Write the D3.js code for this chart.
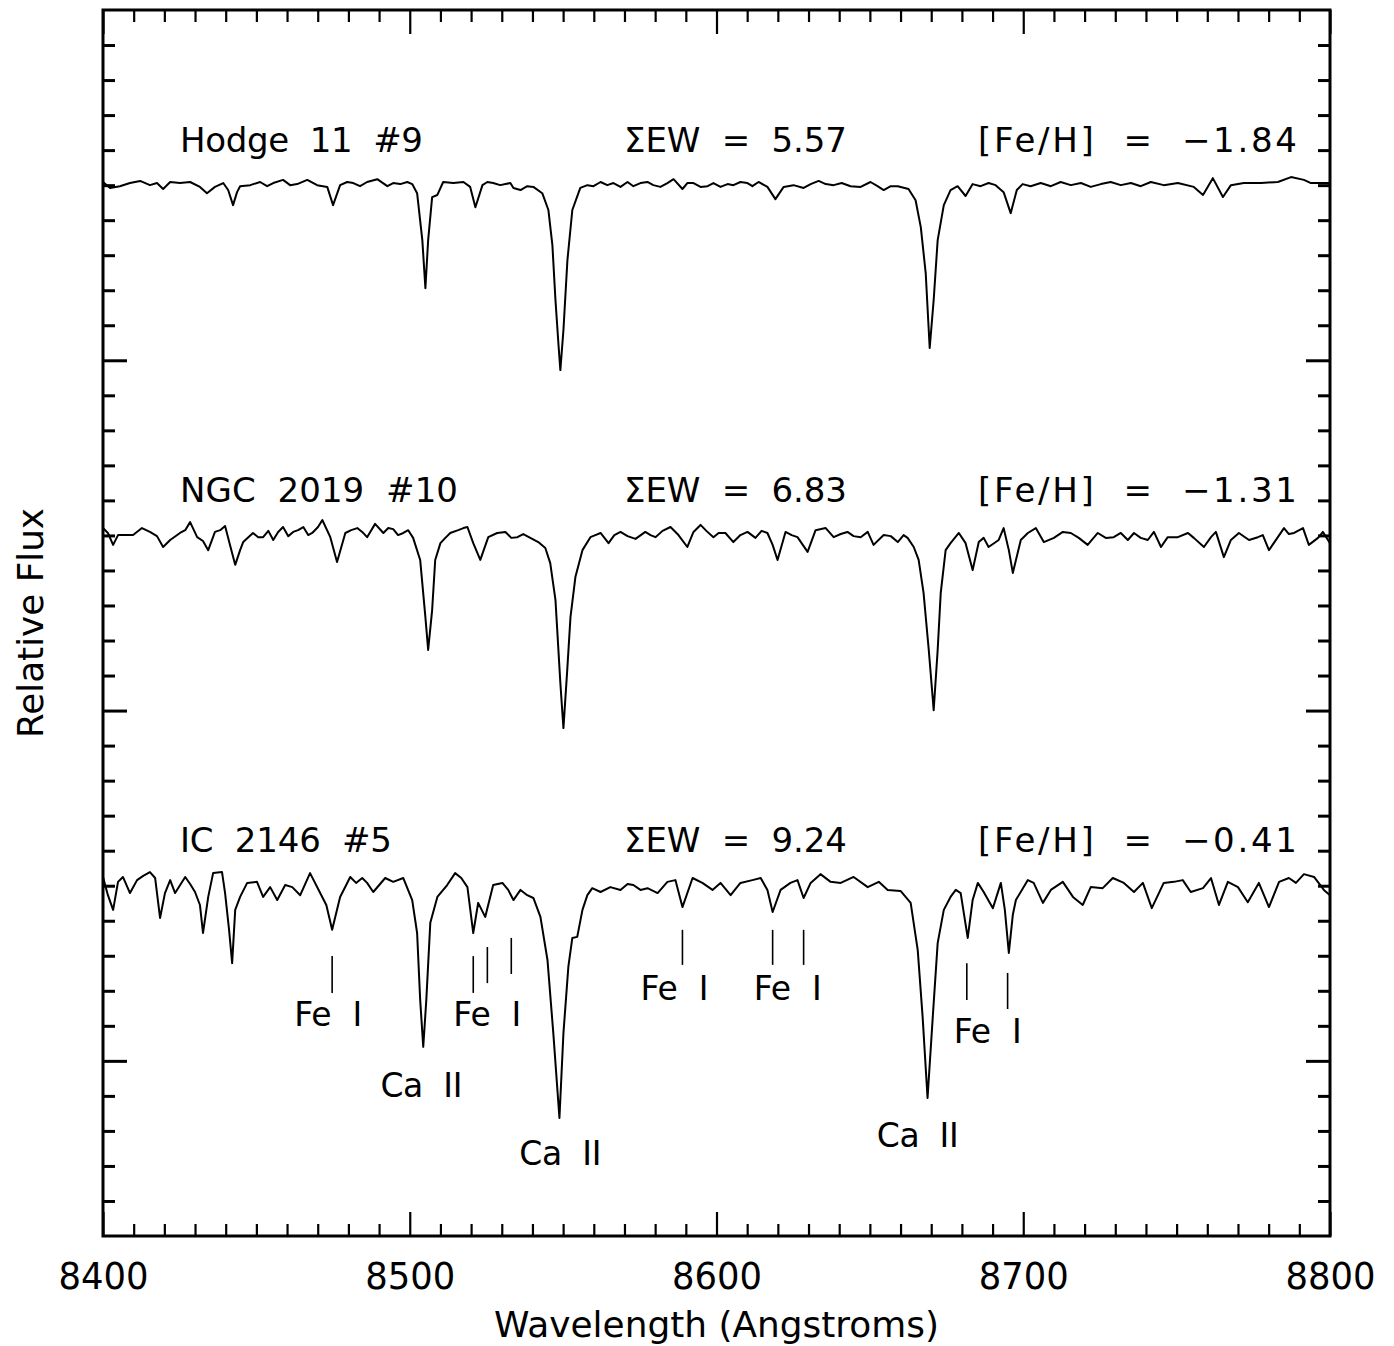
<!DOCTYPE html>
<html><head><meta charset="utf-8">
<script src="https://cdn.jsdelivr.net/npm/d3@7"></script>
<style>
body{margin:0;background:#fff}
svg{display:block}
text{font-family:"DejaVu Sans",Arial,sans-serif;fill:#000;white-space:pre}
</style>
</head><body>
<svg id="c" width="1394" height="1346"></svg>
<script>
// ---------------- DATA ----------------
// [wavelength (Å), normalized flux]
const hodge = [
[8400.0,1.009],[8402.3,0.992],[8405.5,0.997],[8408.8,1.006],[8412.1,1.012],[8415.3,1.000],[8417.6,1.006],[8419.6,0.989],[8421.9,1.009],[8425.1,1.006],[8428.4,1.009],[8431.6,0.995],[8433.9,0.977],[8436.5,0.995],[8439.2,1.006],[8440.8,0.986],[8442.4,0.943],[8443.7,0.980],[8444.7,0.997],[8448.0,1.000],[8451.2,1.009],[8453.5,0.997],[8455.5,1.006],[8458.7,1.015],[8461.0,1.000],[8463.3,1.003],[8466.6,1.015],[8469.8,1.000],[8473.1,0.995],[8475.0,0.943],[8477.3,1.000],[8479.6,1.009],[8481.6,1.006],[8483.8,0.997],[8486.1,1.009],[8489.4,1.017],[8492.7,0.997],[8494.6,1.006],[8496.9,1.003],[8499.2,1.009],[8500.8,1.003],[8502.4,0.977],[8504.1,0.843],[8505.1,0.706],[8506.0,0.843],[8507.3,0.966],[8509.0,0.972],[8510.9,1.009],[8514.2,1.006],[8517.5,1.009],[8519.7,0.995],[8521.4,0.937],[8523.7,1.000],[8525.3,1.009],[8527.2,1.006],[8529.5,1.000],[8531.2,1.003],[8532.8,1.006],[8533.8,0.992],[8536.1,0.986],[8538.3,0.997],[8540.3,0.995],[8543.2,0.977],[8545.2,0.929],[8546.5,0.829],[8547.5,0.672],[8548.5,0.543],[8549.1,0.472],[8550.1,0.586],[8551.4,0.786],[8553.0,0.929],[8555.6,0.992],[8557.9,1.000],[8559.9,0.997],[8562.2,1.009],[8564.4,1.000],[8566.4,1.006],[8568.7,0.995],[8571.0,1.009],[8572.9,0.997],[8575.2,1.006],[8577.5,1.009],[8579.4,1.000],[8581.7,0.995],[8584.0,1.006],[8586.0,1.017],[8588.9,0.989],[8590.5,1.006],[8592.5,1.006],[8594.8,0.995],[8597.1,0.997],[8599.0,1.006],[8601.3,0.995],[8603.6,1.003],[8605.5,1.000],[8607.8,1.009],[8610.1,1.006],[8611.7,0.997],[8613.7,1.009],[8616.6,0.995],[8619.2,0.960],[8621.9,0.995],[8625.1,1.000],[8628.4,0.992],[8630.7,1.003],[8633.3,1.012],[8635.6,1.003],[8638.2,1.000],[8640.8,1.006],[8643.7,0.997],[8647.0,0.995],[8650.2,1.009],[8652.5,0.997],[8654.5,0.986],[8656.8,0.997],[8659.1,0.997],[8662.6,0.989],[8664.9,0.957],[8666.6,0.880],[8668.2,0.749],[8669.5,0.535],[8670.8,0.672],[8672.1,0.843],[8674.1,0.943],[8676.3,0.986],[8678.6,0.997],[8681.2,0.969],[8683.5,1.003],[8686.1,0.997],[8688.7,1.006],[8691.0,1.000],[8693.6,0.980],[8695.9,0.920],[8697.9,0.986],[8699.8,1.003],[8702.4,0.997],[8705.7,1.006],[8709.0,0.997],[8712.2,1.009],[8715.5,1.000],[8718.8,1.006],[8722.0,0.995],[8725.3,1.003],[8728.5,1.009],[8731.8,1.000],[8735.1,1.006],[8738.3,0.997],[8741.6,1.009],[8745.8,1.000],[8750.4,1.006],[8755.6,0.995],[8758.6,0.972],[8761.8,1.020],[8765.1,0.966],[8767.7,1.000],[8771.9,1.006],[8777.5,1.006],[8783.0,1.009],[8787.3,1.023],[8791.5,1.015],[8793.8,1.006],[8800.0,1.006]
];
const ngc2019 = [
[8400.0,1.021],[8401.6,1.007],[8403.3,0.973],[8404.9,1.001],[8409.8,1.001],[8412.7,1.021],[8415.3,1.010],[8417.6,0.998],[8419.6,0.967],[8421.9,0.987],[8425.1,1.007],[8426.8,1.015],[8428.4,1.038],[8430.7,0.995],[8432.6,0.984],[8434.3,0.958],[8436.5,1.010],[8438.2,1.015],[8439.8,1.027],[8441.4,0.973],[8443.1,0.916],[8444.7,0.958],[8445.7,0.981],[8448.9,1.007],[8450.6,0.995],[8452.2,0.995],[8453.9,1.013],[8455.5,0.987],[8457.1,1.010],[8458.7,1.024],[8460.4,0.998],[8462.0,1.010],[8463.6,1.015],[8465.3,1.024],[8466.9,1.001],[8468.2,1.007],[8470.1,1.024],[8471.5,1.044],[8474.1,0.995],[8476.3,0.924],[8479.0,1.007],[8480.9,1.015],[8482.9,1.021],[8484.5,1.010],[8486.1,0.995],[8488.7,1.033],[8491.4,1.007],[8493.0,1.021],[8494.6,1.018],[8496.2,1.001],[8497.9,1.007],[8499.5,1.015],[8501.1,0.993],[8503.4,0.930],[8505.1,0.767],[8506.0,0.673],[8507.3,0.787],[8508.3,0.930],[8510.0,0.978],[8511.6,0.993],[8513.2,1.007],[8515.8,1.015],[8517.5,1.021],[8518.8,1.024],[8520.7,0.978],[8523.0,0.930],[8525.6,0.995],[8528.5,1.007],[8531.2,1.010],[8533.1,0.993],[8535.1,0.995],[8537.0,1.004],[8539.3,0.993],[8541.9,0.981],[8544.2,0.964],[8545.8,0.921],[8547.5,0.816],[8549.1,0.578],[8550.1,0.450],[8551.4,0.624],[8552.4,0.767],[8554.0,0.881],[8556.3,0.958],[8558.9,0.995],[8560.5,1.001],[8562.2,1.007],[8564.8,0.978],[8566.7,1.001],[8568.7,1.010],[8571.0,0.998],[8573.6,0.990],[8576.8,1.010],[8578.5,1.001],[8580.1,0.995],[8582.4,1.013],[8585.0,1.024],[8587.6,1.001],[8590.5,0.967],[8592.5,1.010],[8594.8,1.030],[8596.7,1.013],[8599.0,0.995],[8600.7,1.007],[8602.9,1.007],[8605.5,0.981],[8607.8,1.001],[8610.1,1.010],[8612.7,0.993],[8614.7,1.013],[8616.6,1.007],[8618.3,0.973],[8619.9,0.930],[8622.5,1.010],[8624.5,1.001],[8626.4,0.995],[8629.7,0.953],[8632.3,1.015],[8635.6,1.021],[8638.2,0.995],[8640.5,1.004],[8642.7,1.010],[8644.7,0.998],[8647.0,0.995],[8649.3,1.010],[8651.2,0.973],[8654.5,1.001],[8656.8,0.998],[8659.1,0.981],[8661.0,1.001],[8662.3,0.993],[8664.3,0.967],[8665.9,0.930],[8667.5,0.836],[8669.2,0.673],[8670.8,0.501],[8672.1,0.673],[8673.1,0.836],[8674.7,0.958],[8676.3,0.978],[8679.0,1.007],[8681.2,0.978],[8683.5,0.901],[8685.5,0.981],[8687.1,0.993],[8688.7,0.967],[8692.0,0.987],[8693.6,1.021],[8695.3,0.958],[8696.6,0.893],[8699.2,0.987],[8701.5,1.007],[8704.1,1.021],[8706.7,0.981],[8710.0,0.993],[8712.9,1.010],[8715.5,1.007],[8718.1,0.993],[8721.0,0.973],[8724.3,1.007],[8726.9,0.993],[8729.5,0.995],[8731.8,1.007],[8734.1,0.987],[8736.1,1.007],[8738.3,0.993],[8740.6,0.987],[8742.6,1.010],[8744.9,0.967],[8747.1,0.995],[8750.4,0.995],[8753.7,1.007],[8755.6,0.993],[8758.9,0.967],[8761.2,0.995],[8762.8,1.010],[8765.4,0.938],[8767.7,0.987],[8770.3,1.007],[8773.6,0.987],[8776.5,0.995],[8778.1,1.001],[8780.1,0.958],[8783.0,0.995],[8785.0,1.021],[8786.6,1.004],[8788.3,1.007],[8791.2,1.021],[8793.1,0.973],[8796.1,0.993],[8797.7,1.010],[8800.0,0.978]
];
const ic2146 = [
[8400.0,1.025],[8401.6,0.973],[8403.3,0.931],[8404.9,1.011],[8406.5,1.025],[8408.8,0.979],[8411.1,1.016],[8413.1,1.028],[8415.3,1.039],[8417.0,1.022],[8418.6,0.908],[8420.2,0.979],[8421.9,1.016],[8423.5,0.979],[8426.8,1.025],[8428.4,1.005],[8430.0,0.982],[8431.6,0.945],[8432.6,0.865],[8434.3,0.968],[8435.9,1.036],[8438.8,1.039],[8439.8,0.979],[8441.1,0.874],[8442.1,0.779],[8443.1,0.931],[8444.7,0.968],[8447.0,1.008],[8450.2,1.011],[8452.2,0.968],[8454.5,0.996],[8456.8,0.959],[8459.4,1.002],[8461.7,0.996],[8464.3,0.973],[8467.5,1.036],[8470.8,0.979],[8472.8,0.945],[8474.7,0.874],[8477.3,0.968],[8480.6,1.025],[8482.5,1.008],[8484.5,1.022],[8486.1,1.008],[8488.1,0.982],[8492.0,1.022],[8494.6,1.011],[8497.9,1.022],[8500.8,0.959],[8502.4,0.865],[8503.4,0.674],[8504.4,0.540],[8505.4,0.674],[8506.7,0.894],[8509.0,0.968],[8512.2,1.002],[8514.8,1.036],[8516.8,1.022],[8518.8,0.996],[8520.7,0.865],[8522.3,0.951],[8524.6,0.911],[8527.2,1.002],[8530.2,1.008],[8532.1,0.988],[8533.8,0.959],[8536.1,0.988],[8538.3,0.973],[8540.3,0.965],[8542.6,0.911],[8544.9,0.788],[8546.8,0.579],[8548.8,0.337],[8550.1,0.579],[8551.7,0.768],[8553.0,0.851],[8554.6,0.854],[8556.3,0.931],[8557.9,0.973],[8559.5,0.993],[8562.2,0.982],[8565.4,0.996],[8568.7,0.988],[8571.0,1.005],[8572.9,1.002],[8575.2,0.988],[8577.5,0.993],[8580.8,0.979],[8584.0,1.011],[8586.6,1.016],[8588.9,0.939],[8592.2,1.022],[8595.4,1.008],[8598.7,0.988],[8601.3,1.008],[8604.6,0.973],[8607.8,1.008],[8611.7,1.016],[8614.4,1.022],[8616.6,0.988],[8618.3,0.925],[8620.9,0.988],[8624.1,1.008],[8626.4,1.016],[8628.4,0.965],[8630.7,1.008],[8633.9,1.033],[8637.2,1.011],[8640.5,1.008],[8644.7,1.025],[8649.3,0.996],[8652.9,1.011],[8655.8,0.988],[8660.0,0.985],[8663.3,0.951],[8665.6,0.816],[8667.2,0.625],[8668.8,0.394],[8670.5,0.625],[8672.1,0.836],[8674.1,0.931],[8676.3,0.968],[8678.0,0.988],[8679.6,0.979],[8681.9,0.851],[8683.5,0.959],[8685.2,1.008],[8687.1,0.982],[8690.1,0.936],[8692.7,1.008],[8694.0,0.931],[8695.3,0.808],[8696.6,0.917],[8697.6,0.959],[8701.5,1.016],[8703.4,1.008],[8706.4,0.951],[8709.0,0.988],[8712.9,1.011],[8716.2,0.968],[8719.4,0.945],[8722.0,0.996],[8725.9,0.993],[8729.2,1.022],[8732.8,1.008],[8736.1,0.982],[8739.0,1.008],[8741.9,0.936],[8745.8,1.008],[8749.1,1.011],[8752.0,1.016],[8754.6,0.982],[8758.6,0.993],[8761.2,1.022],[8763.8,0.945],[8766.7,1.011],[8770.0,0.996],[8773.2,0.953],[8776.8,1.008],[8780.1,0.939],[8783.4,1.011],[8786.6,1.022],[8788.9,1.008],[8791.5,1.033],[8794.8,1.025],[8798.0,0.988],[8800.0,0.973]
];
const starNames = ["Hodge  11  #9", "NGC  2019  #10", "IC  2146  #5"];
const sumEW = ["5.57", "6.83", "9.24"];
const feH = ["\u22121.84", "\u22121.31", "\u22120.41"];
const offsets = [2, 1, 0];

// line identification marks (IC 2146 #5), wavelength and flux extent
const markWave   = [8474.7, 8520.7, 8525.3, 8533.1, 8588.9, 8618.3, 8628.4, 8681.6, 8694.9];
const markTop    = [0.799, 0.799, 0.825, 0.851, 0.874, 0.874, 0.874, 0.779, 0.751];
const markBottom = [0.694, 0.694, 0.722, 0.748, 0.774, 0.774, 0.774, 0.674, 0.648];
const lineLabels = ["Fe  I", "Fe  I", "Fe  I", "Fe  I", "Fe  I", "Ca  II", "Ca  II", "Ca  II"];
const labelWave  = [8473.4, 8525.3, 8586.3, 8623.2, 8688.4, 8503.8, 8549.1, 8665.6];
const labelLevel = [0.600, 0.600, 0.674, 0.674, 0.551, 0.397, 0.203, 0.254];

const xTickLabels = [8400, 8500, 8600, 8700, 8800];
const yMajorTicks = [0.5, 1.5, 2.5];

// ---------------- LAYOUT ----------------
const L = 103, R = 1330, T = 10, B = 1236;
const x = d3.scaleLinear().domain([8400, 8800]).range([L, R]);
const y = d3.scaleLinear().domain([0, 3.5]).range([B, T]);
const svg = d3.select("#c");
const FONT = "DejaVu Sans, Arial, sans-serif";

// spectra
const line = d3.line().x(d => x(d[0])).y(d => y(d[1]));
[hodge, ngc2019, ic2146].forEach((s, i) => {
  svg.append("path")
    .datum(s.map(d => [d[0], d[1] + offsets[i]]))
    .attr("d", line)
    .attr("fill", "none")
    .attr("stroke", "#000")
    .attr("stroke-width", 2)
    .attr("stroke-linejoin", "round");
});

// axes
const xMinor = d3.range(8400, 8801, 10).filter(v => v % 100 !== 0);
const yMinor = d3.range(1, 35).map(i => i / 10).filter(v => !yMajorTicks.some(m => Math.abs(m - v) < 1e-6));

function addAxis(gen, tx, ty, sw) {
  const g = svg.append("g").attr("transform", `translate(${tx},${ty})`).call(gen);
  g.select(".domain").remove();
  g.selectAll(".tick line").attr("stroke", "#000").attr("stroke-width", sw);
  return g;
}
const bx = addAxis(d3.axisBottom(x).tickValues(xTickLabels).tickSize(-24).tickPadding(27).tickFormat(d3.format("d")), 0, B, 2.2);
bx.selectAll("text").attr("font-size", 37).attr("font-family", FONT)
  .attr("fill", "#000").attr("textLength", 90).attr("lengthAdjust", "spacingAndGlyphs");
addAxis(d3.axisBottom(x).tickValues(xMinor).tickSize(-12).tickFormat(""), 0, B, 2.2);
addAxis(d3.axisTop(x).tickValues(xTickLabels).tickSize(-24).tickFormat(""), 0, T, 2.2);
addAxis(d3.axisTop(x).tickValues(xMinor).tickSize(-12).tickFormat(""), 0, T, 2.2);
addAxis(d3.axisLeft(y).tickValues(yMajorTicks).tickSize(-24).tickFormat(""), L, 0, 3);
addAxis(d3.axisLeft(y).tickValues(yMinor).tickSize(-12).tickFormat(""), L, 0, 3);
addAxis(d3.axisRight(y).tickValues(yMajorTicks).tickSize(-24).tickFormat(""), R, 0, 3);
addAxis(d3.axisRight(y).tickValues(yMinor).tickSize(-12).tickFormat(""), R, 0, 3);

// frame
svg.append("rect").attr("x", L).attr("y", T).attr("width", R - L).attr("height", B - T)
  .attr("fill", "none").attr("stroke", "#000").attr("stroke-width", 3);

// axis titles
svg.append("text").attr("x", (L + R) / 2).attr("y", 1337).attr("text-anchor", "middle")
  .attr("font-size", 36).attr("textLength", 445).attr("lengthAdjust", "spacingAndGlyphs")
  .text("Wavelength (Angstroms)");
svg.append("text").attr("transform", `translate(43,${(T + B) / 2}) rotate(-90)`).attr("text-anchor", "middle")
  .attr("font-size", 36).attr("textLength", 230).attr("lengthAdjust", "spacingAndGlyphs")
  .text("Relative Flux");

// star labels
const nameWidths = [243, 278, 212];
const rise = 1.095;
starNames.forEach((n, i) => {
  const yy = y(offsets[i] + rise);
  svg.append("text").attr("x", 180).attr("y", yy).attr("font-size", 34)
    .attr("textLength", nameWidths[i]).attr("lengthAdjust", "spacing").text(n);
  svg.append("text").attr("x", 624).attr("y", yy).attr("font-size", 34)
    .attr("textLength", 223).attr("lengthAdjust", "spacing").text("\u03A3EW  =  " + sumEW[i]);
  svg.append("text").attr("x", 1297).attr("y", yy).attr("font-size", 34).attr("text-anchor", "end")
    .attr("textLength", 319).attr("lengthAdjust", "spacing").text("[Fe/H]  =  " + feH[i]);
});

// line marks
markWave.forEach((w, i) => {
  svg.append("line").attr("x1", x(w)).attr("x2", x(w))
    .attr("y1", y(markTop[i])).attr("y2", y(markBottom[i]))
    .attr("stroke", "#000").attr("stroke-width", 1.6);
});
lineLabels.forEach((t, i) => {
  svg.append("text").attr("x", x(labelWave[i])).attr("y", y(labelLevel[i]))
    .attr("text-anchor", "middle").attr("font-size", 33)
    .attr("textLength", t.startsWith("Fe") ? 68 : 82).attr("lengthAdjust", "spacing").text(t);
});
</script>
</body></html>
